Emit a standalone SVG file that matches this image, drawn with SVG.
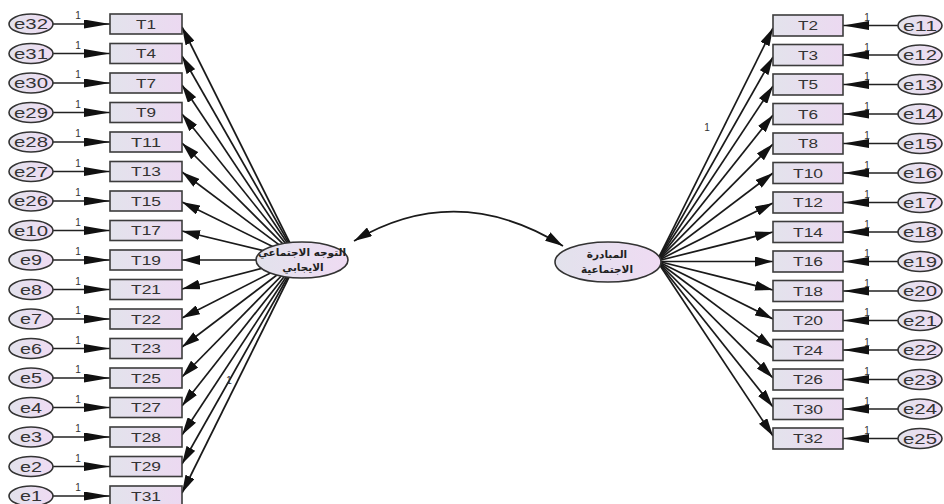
<svg xmlns="http://www.w3.org/2000/svg" width="944" height="504" viewBox="0 0 944 504">
  <defs>
    <linearGradient id="boxFill" x1="0" y1="0" x2="1" y2="0">
      <stop offset="0" stop-color="#e3e3ec"/>
      <stop offset="1" stop-color="#ecd9f1"/>
    </linearGradient>
    <linearGradient id="ovalFill" x1="0" y1="0" x2="1" y2="0">
      <stop offset="0" stop-color="#e2e2ec"/>
      <stop offset="1" stop-color="#efdbf3"/>
    </linearGradient>
    <marker id="ahLong" markerUnits="userSpaceOnUse" viewBox="0 0 26 9" refX="26" refY="4.5" markerWidth="26" markerHeight="9" orient="auto">
      <path d="M0,0 L26,4.5 L0,9 z" fill="#111"/>
    </marker>
    <marker id="ah" markerUnits="userSpaceOnUse" viewBox="0 0 18 10" refX="18" refY="5" markerWidth="18" markerHeight="10" orient="auto-start-reverse">
      <path d="M0,0 L18,5 L0,10 z" fill="#111"/>
    </marker>
    <style>
      .box { fill: url(#boxFill); stroke: #3c3c3c; stroke-width: 1.6; }
      .err { fill: url(#ovalFill); stroke: #333; stroke-width: 1.6; }
      .lat { fill: url(#ovalFill); stroke: #333; stroke-width: 1.6; }
      .lbl { font-family: "Liberation Sans", Arial, sans-serif; font-size: 13px; fill: #333; text-anchor: middle; }
      .elbl { font-family: "Liberation Sans", Arial, sans-serif; font-size: 15px; fill: #333; text-anchor: middle; }
      .one { font-family: "Liberation Sans", Arial, sans-serif; font-size: 10px; fill: #333; text-anchor: middle; }
      .ar { font-family: "DejaVu Sans", sans-serif; font-size: 10.5px; fill: #222; text-anchor: middle; font-weight: bold; }
      .errpath { stroke: #222; stroke-width: 1.6; fill: none; marker-end: url(#ahLong); }
      .load { stroke: #1a1a1a; stroke-width: 1.7; fill: none; marker-end: url(#ah); }
      .cov { stroke: #1a1a1a; stroke-width: 1.7; fill: none; marker-start: url(#ah); marker-end: url(#ah); }
    </style>
  </defs>
  <rect width="944" height="504" fill="#ffffff"/>

  <!-- paths: error terms, loadings, covariance -->
  <g id="connectors">
    <!-- left error terms -->
    <path class="errpath" d="M31,24 H110"/>
    <path class="errpath" d="M31,53.5 H110"/>
    <path class="errpath" d="M31,83 H110"/>
    <path class="errpath" d="M31,112.5 H110"/>
    <path class="errpath" d="M31,142 H110"/>
    <path class="errpath" d="M31,171.5 H110"/>
    <path class="errpath" d="M31,201 H110"/>
    <path class="errpath" d="M31,230.5 H110"/>
    <path class="errpath" d="M31,260 H110"/>
    <path class="errpath" d="M31,289.5 H110"/>
    <path class="errpath" d="M31,319 H110"/>
    <path class="errpath" d="M31,348.5 H110"/>
    <path class="errpath" d="M31,378 H110"/>
    <path class="errpath" d="M31,407.5 H110"/>
    <path class="errpath" d="M31,437 H110"/>
    <path class="errpath" d="M31,466.5 H110"/>
    <path class="errpath" d="M31,496 H110"/>
    <!-- right error terms -->
    <path class="errpath" d="M920,25.5 H843"/>
    <path class="errpath" d="M920,55 H843"/>
    <path class="errpath" d="M920,84.5 H843"/>
    <path class="errpath" d="M920,114 H843"/>
    <path class="errpath" d="M920,143.5 H843"/>
    <path class="errpath" d="M920,173 H843"/>
    <path class="errpath" d="M920,202.5 H843"/>
    <path class="errpath" d="M920,232 H843"/>
    <path class="errpath" d="M920,261.5 H843"/>
    <path class="errpath" d="M920,291 H843"/>
    <path class="errpath" d="M920,320.5 H843"/>
    <path class="errpath" d="M920,350 H843"/>
    <path class="errpath" d="M920,379.5 H843"/>
    <path class="errpath" d="M920,409 H843"/>
    <path class="errpath" d="M920,438.5 H843"/>
    <!-- left loadings -->
    <path class="load" d="M298,259 L182,27"/>
    <path class="load" d="M298,259 L182,56"/>
    <path class="load" d="M298,259 L182,85"/>
    <path class="load" d="M298,259 L182,114"/>
    <path class="load" d="M298,259 L182,143"/>
    <path class="load" d="M298,259 L182,172"/>
    <path class="load" d="M298,259 L182,202"/>
    <path class="load" d="M298,259 L182,231"/>
    <path class="load" d="M298,260 L182,260"/>
    <path class="load" d="M298,259 L182,289"/>
    <path class="load" d="M298,259 L182,318"/>
    <path class="load" d="M298,259 L182,347"/>
    <path class="load" d="M298,259 L182,377"/>
    <path class="load" d="M298,259 L182,406"/>
    <path class="load" d="M298,259 L182,435"/>
    <path class="load" d="M298,259 L182,464"/>
    <path class="load" d="M298,259 L182,493"/>
    <!-- right loadings -->
    <path class="load" d="M657,261 L773,28"/>
    <path class="load" d="M657,261 L773,57"/>
    <path class="load" d="M657,261 L773,86"/>
    <path class="load" d="M657,261 L773,115"/>
    <path class="load" d="M657,261 L773,144"/>
    <path class="load" d="M657,261 L773,173"/>
    <path class="load" d="M657,261 L773,203"/>
    <path class="load" d="M657,261 L773,232"/>
    <path class="load" d="M657,261.5 L773,261.5"/>
    <path class="load" d="M657,261 L773,290"/>
    <path class="load" d="M657,261 L773,319"/>
    <path class="load" d="M657,261 L773,348"/>
    <path class="load" d="M657,261 L773,378"/>
    <path class="load" d="M657,261 L773,407"/>
    <path class="load" d="M657,261 L773,436"/>
    <!-- covariance between the two factors -->
    <path class="cov" d="M354,241 Q457,180 563,246"/>
    <!-- fixed parameter labels -->
    <text class="one" x="78" y="19">1</text>
    <text class="one" x="78" y="48.5">1</text>
    <text class="one" x="78" y="78">1</text>
    <text class="one" x="78" y="107.5">1</text>
    <text class="one" x="78" y="137">1</text>
    <text class="one" x="78" y="166.5">1</text>
    <text class="one" x="78" y="196">1</text>
    <text class="one" x="78" y="225.5">1</text>
    <text class="one" x="78" y="255">1</text>
    <text class="one" x="78" y="284.5">1</text>
    <text class="one" x="78" y="314">1</text>
    <text class="one" x="78" y="343.5">1</text>
    <text class="one" x="78" y="373">1</text>
    <text class="one" x="78" y="402.5">1</text>
    <text class="one" x="78" y="432">1</text>
    <text class="one" x="78" y="461.5">1</text>
    <text class="one" x="78" y="491">1</text>
    <text class="one" x="867" y="21">1</text>
    <text class="one" x="867" y="50.5">1</text>
    <text class="one" x="867" y="80">1</text>
    <text class="one" x="867" y="109.5">1</text>
    <text class="one" x="867" y="139">1</text>
    <text class="one" x="867" y="168.5">1</text>
    <text class="one" x="867" y="198">1</text>
    <text class="one" x="867" y="227.5">1</text>
    <text class="one" x="867" y="257">1</text>
    <text class="one" x="867" y="286.5">1</text>
    <text class="one" x="867" y="316">1</text>
    <text class="one" x="867" y="345.5">1</text>
    <text class="one" x="867" y="375">1</text>
    <text class="one" x="867" y="404.5">1</text>
    <text class="one" x="867" y="434">1</text>
    <text class="one" x="229" y="384">1</text>
    <text class="one" x="707" y="131">1</text>
  </g>

  <!-- latent factors -->
  <g id="F1">
    <ellipse class="lat" cx="302" cy="260" rx="46" ry="18"/>
    <text class="ar" x="302" y="256">التوجه الاجتماعي</text>
    <text class="ar" x="303" y="271">الايجابي</text>
  </g>
  <g id="F2">
    <ellipse class="lat" cx="608" cy="262" rx="53" ry="20"/>
    <text class="ar" x="607" y="258">المبادرة</text>
    <text class="ar" x="607" y="273">الاجتماعية</text>
  </g>

  <!-- left indicators -->
  <g id="T1"><rect class="box" x="110" y="14" width="72" height="20"/><text class="lbl" x="146" y="28.6" textLength="20" lengthAdjust="spacingAndGlyphs">T1</text></g>
  <g id="T4"><rect class="box" x="110" y="43.5" width="72" height="20"/><text class="lbl" x="146" y="58.1" textLength="20" lengthAdjust="spacingAndGlyphs">T4</text></g>
  <g id="T7"><rect class="box" x="110" y="73" width="72" height="20"/><text class="lbl" x="146" y="87.6" textLength="20" lengthAdjust="spacingAndGlyphs">T7</text></g>
  <g id="T9"><rect class="box" x="110" y="102.5" width="72" height="20"/><text class="lbl" x="146" y="117.1" textLength="20" lengthAdjust="spacingAndGlyphs">T9</text></g>
  <g id="T11"><rect class="box" x="110" y="132" width="72" height="20"/><text class="lbl" x="146" y="146.6" textLength="30" lengthAdjust="spacingAndGlyphs">T11</text></g>
  <g id="T13"><rect class="box" x="110" y="161.5" width="72" height="20"/><text class="lbl" x="146" y="176.1" textLength="30" lengthAdjust="spacingAndGlyphs">T13</text></g>
  <g id="T15"><rect class="box" x="110" y="191" width="72" height="20"/><text class="lbl" x="146" y="205.6" textLength="30" lengthAdjust="spacingAndGlyphs">T15</text></g>
  <g id="T17"><rect class="box" x="110" y="220.5" width="72" height="20"/><text class="lbl" x="146" y="235.1" textLength="30" lengthAdjust="spacingAndGlyphs">T17</text></g>
  <g id="T19"><rect class="box" x="110" y="250" width="72" height="20"/><text class="lbl" x="146" y="264.6" textLength="30" lengthAdjust="spacingAndGlyphs">T19</text></g>
  <g id="T21"><rect class="box" x="110" y="279.5" width="72" height="20"/><text class="lbl" x="146" y="294.1" textLength="30" lengthAdjust="spacingAndGlyphs">T21</text></g>
  <g id="T22"><rect class="box" x="110" y="309" width="72" height="20"/><text class="lbl" x="146" y="323.6" textLength="30" lengthAdjust="spacingAndGlyphs">T22</text></g>
  <g id="T23"><rect class="box" x="110" y="338.5" width="72" height="20"/><text class="lbl" x="146" y="353.1" textLength="30" lengthAdjust="spacingAndGlyphs">T23</text></g>
  <g id="T25"><rect class="box" x="110" y="368" width="72" height="20"/><text class="lbl" x="146" y="382.6" textLength="30" lengthAdjust="spacingAndGlyphs">T25</text></g>
  <g id="T27"><rect class="box" x="110" y="397.5" width="72" height="20"/><text class="lbl" x="146" y="412.1" textLength="30" lengthAdjust="spacingAndGlyphs">T27</text></g>
  <g id="T28"><rect class="box" x="110" y="427" width="72" height="20"/><text class="lbl" x="146" y="441.6" textLength="30" lengthAdjust="spacingAndGlyphs">T28</text></g>
  <g id="T29"><rect class="box" x="110" y="456.5" width="72" height="20"/><text class="lbl" x="146" y="471.1" textLength="30" lengthAdjust="spacingAndGlyphs">T29</text></g>
  <g id="T31"><rect class="box" x="110" y="486" width="72" height="20"/><text class="lbl" x="146" y="500.6" textLength="30" lengthAdjust="spacingAndGlyphs">T31</text></g>

  <!-- right indicators -->
  <g id="T2"><rect class="box" x="773" y="15" width="70" height="21"/><text class="lbl" x="808" y="30.1" textLength="20" lengthAdjust="spacingAndGlyphs">T2</text></g>
  <g id="T3"><rect class="box" x="773" y="44.5" width="70" height="21"/><text class="lbl" x="808" y="59.6" textLength="20" lengthAdjust="spacingAndGlyphs">T3</text></g>
  <g id="T5"><rect class="box" x="773" y="74" width="70" height="21"/><text class="lbl" x="808" y="89.1" textLength="20" lengthAdjust="spacingAndGlyphs">T5</text></g>
  <g id="T6"><rect class="box" x="773" y="103.5" width="70" height="21"/><text class="lbl" x="808" y="118.6" textLength="20" lengthAdjust="spacingAndGlyphs">T6</text></g>
  <g id="T8"><rect class="box" x="773" y="133" width="70" height="21"/><text class="lbl" x="808" y="148.1" textLength="20" lengthAdjust="spacingAndGlyphs">T8</text></g>
  <g id="T10"><rect class="box" x="773" y="162.5" width="70" height="21"/><text class="lbl" x="808" y="177.6" textLength="30" lengthAdjust="spacingAndGlyphs">T10</text></g>
  <g id="T12"><rect class="box" x="773" y="192" width="70" height="21"/><text class="lbl" x="808" y="207.1" textLength="30" lengthAdjust="spacingAndGlyphs">T12</text></g>
  <g id="T14"><rect class="box" x="773" y="221.5" width="70" height="21"/><text class="lbl" x="808" y="236.6" textLength="30" lengthAdjust="spacingAndGlyphs">T14</text></g>
  <g id="T16"><rect class="box" x="773" y="251" width="70" height="21"/><text class="lbl" x="808" y="266.1" textLength="30" lengthAdjust="spacingAndGlyphs">T16</text></g>
  <g id="T18"><rect class="box" x="773" y="280.5" width="70" height="21"/><text class="lbl" x="808" y="295.6" textLength="30" lengthAdjust="spacingAndGlyphs">T18</text></g>
  <g id="T20"><rect class="box" x="773" y="310" width="70" height="21"/><text class="lbl" x="808" y="325.1" textLength="30" lengthAdjust="spacingAndGlyphs">T20</text></g>
  <g id="T24"><rect class="box" x="773" y="339.5" width="70" height="21"/><text class="lbl" x="808" y="354.6" textLength="30" lengthAdjust="spacingAndGlyphs">T24</text></g>
  <g id="T26"><rect class="box" x="773" y="369" width="70" height="21"/><text class="lbl" x="808" y="384.1" textLength="30" lengthAdjust="spacingAndGlyphs">T26</text></g>
  <g id="T30"><rect class="box" x="773" y="398.5" width="70" height="21"/><text class="lbl" x="808" y="413.6" textLength="30" lengthAdjust="spacingAndGlyphs">T30</text></g>
  <g id="T32"><rect class="box" x="773" y="428" width="70" height="21"/><text class="lbl" x="808" y="443.1" textLength="30" lengthAdjust="spacingAndGlyphs">T32</text></g>

  <!-- left error terms -->
  <g id="e32"><ellipse class="err" cx="31" cy="24" rx="22" ry="10"/><text class="elbl" x="31" y="29.3" textLength="34" lengthAdjust="spacingAndGlyphs">e32</text></g>
  <g id="e31"><ellipse class="err" cx="31" cy="53.5" rx="22" ry="10"/><text class="elbl" x="31" y="58.8" textLength="34" lengthAdjust="spacingAndGlyphs">e31</text></g>
  <g id="e30"><ellipse class="err" cx="31" cy="83" rx="22" ry="10"/><text class="elbl" x="31" y="88.3" textLength="34" lengthAdjust="spacingAndGlyphs">e30</text></g>
  <g id="e29"><ellipse class="err" cx="31" cy="112.5" rx="22" ry="10"/><text class="elbl" x="31" y="117.8" textLength="34" lengthAdjust="spacingAndGlyphs">e29</text></g>
  <g id="e28"><ellipse class="err" cx="31" cy="142" rx="22" ry="10"/><text class="elbl" x="31" y="147.3" textLength="34" lengthAdjust="spacingAndGlyphs">e28</text></g>
  <g id="e27"><ellipse class="err" cx="31" cy="171.5" rx="22" ry="10"/><text class="elbl" x="31" y="176.8" textLength="34" lengthAdjust="spacingAndGlyphs">e27</text></g>
  <g id="e26"><ellipse class="err" cx="31" cy="201" rx="22" ry="10"/><text class="elbl" x="31" y="206.3" textLength="34" lengthAdjust="spacingAndGlyphs">e26</text></g>
  <g id="e10"><ellipse class="err" cx="31" cy="230.5" rx="22" ry="10"/><text class="elbl" x="31" y="235.8" textLength="34" lengthAdjust="spacingAndGlyphs">e10</text></g>
  <g id="e9"><ellipse class="err" cx="31" cy="260" rx="22" ry="10"/><text class="elbl" x="31" y="265.3" textLength="22" lengthAdjust="spacingAndGlyphs">e9</text></g>
  <g id="e8"><ellipse class="err" cx="31" cy="289.5" rx="22" ry="10"/><text class="elbl" x="31" y="294.8" textLength="22" lengthAdjust="spacingAndGlyphs">e8</text></g>
  <g id="e7"><ellipse class="err" cx="31" cy="319" rx="22" ry="10"/><text class="elbl" x="31" y="324.3" textLength="22" lengthAdjust="spacingAndGlyphs">e7</text></g>
  <g id="e6"><ellipse class="err" cx="31" cy="348.5" rx="22" ry="10"/><text class="elbl" x="31" y="353.8" textLength="22" lengthAdjust="spacingAndGlyphs">e6</text></g>
  <g id="e5"><ellipse class="err" cx="31" cy="378" rx="22" ry="10"/><text class="elbl" x="31" y="383.3" textLength="22" lengthAdjust="spacingAndGlyphs">e5</text></g>
  <g id="e4"><ellipse class="err" cx="31" cy="407.5" rx="22" ry="10"/><text class="elbl" x="31" y="412.8" textLength="22" lengthAdjust="spacingAndGlyphs">e4</text></g>
  <g id="e3"><ellipse class="err" cx="31" cy="437" rx="22" ry="10"/><text class="elbl" x="31" y="442.3" textLength="22" lengthAdjust="spacingAndGlyphs">e3</text></g>
  <g id="e2"><ellipse class="err" cx="31" cy="466.5" rx="22" ry="10"/><text class="elbl" x="31" y="471.8" textLength="22" lengthAdjust="spacingAndGlyphs">e2</text></g>
  <g id="e1"><ellipse class="err" cx="31" cy="496" rx="22" ry="10"/><text class="elbl" x="31" y="501.3" textLength="22" lengthAdjust="spacingAndGlyphs">e1</text></g>

  <!-- right error terms -->
  <g id="e11"><ellipse class="err" cx="920" cy="25.5" rx="22" ry="10"/><text class="elbl" x="920" y="30.8" textLength="34" lengthAdjust="spacingAndGlyphs">e11</text></g>
  <g id="e12"><ellipse class="err" cx="920" cy="55" rx="22" ry="10"/><text class="elbl" x="920" y="60.3" textLength="34" lengthAdjust="spacingAndGlyphs">e12</text></g>
  <g id="e13"><ellipse class="err" cx="920" cy="84.5" rx="22" ry="10"/><text class="elbl" x="920" y="89.8" textLength="34" lengthAdjust="spacingAndGlyphs">e13</text></g>
  <g id="e14"><ellipse class="err" cx="920" cy="114" rx="22" ry="10"/><text class="elbl" x="920" y="119.3" textLength="34" lengthAdjust="spacingAndGlyphs">e14</text></g>
  <g id="e15"><ellipse class="err" cx="920" cy="143.5" rx="22" ry="10"/><text class="elbl" x="920" y="148.8" textLength="34" lengthAdjust="spacingAndGlyphs">e15</text></g>
  <g id="e16"><ellipse class="err" cx="920" cy="173" rx="22" ry="10"/><text class="elbl" x="920" y="178.3" textLength="34" lengthAdjust="spacingAndGlyphs">e16</text></g>
  <g id="e17"><ellipse class="err" cx="920" cy="202.5" rx="22" ry="10"/><text class="elbl" x="920" y="207.8" textLength="34" lengthAdjust="spacingAndGlyphs">e17</text></g>
  <g id="e18"><ellipse class="err" cx="920" cy="232" rx="22" ry="10"/><text class="elbl" x="920" y="237.3" textLength="34" lengthAdjust="spacingAndGlyphs">e18</text></g>
  <g id="e19"><ellipse class="err" cx="920" cy="261.5" rx="22" ry="10"/><text class="elbl" x="920" y="266.8" textLength="34" lengthAdjust="spacingAndGlyphs">e19</text></g>
  <g id="e20"><ellipse class="err" cx="920" cy="291" rx="22" ry="10"/><text class="elbl" x="920" y="296.3" textLength="34" lengthAdjust="spacingAndGlyphs">e20</text></g>
  <g id="e21"><ellipse class="err" cx="920" cy="320.5" rx="22" ry="10"/><text class="elbl" x="920" y="325.8" textLength="34" lengthAdjust="spacingAndGlyphs">e21</text></g>
  <g id="e22"><ellipse class="err" cx="920" cy="350" rx="22" ry="10"/><text class="elbl" x="920" y="355.3" textLength="34" lengthAdjust="spacingAndGlyphs">e22</text></g>
  <g id="e23"><ellipse class="err" cx="920" cy="379.5" rx="22" ry="10"/><text class="elbl" x="920" y="384.8" textLength="34" lengthAdjust="spacingAndGlyphs">e23</text></g>
  <g id="e24"><ellipse class="err" cx="920" cy="409" rx="22" ry="10"/><text class="elbl" x="920" y="414.3" textLength="34" lengthAdjust="spacingAndGlyphs">e24</text></g>
  <g id="e25"><ellipse class="err" cx="920" cy="438.5" rx="22" ry="10"/><text class="elbl" x="920" y="443.8" textLength="34" lengthAdjust="spacingAndGlyphs">e25</text></g>
</svg>
